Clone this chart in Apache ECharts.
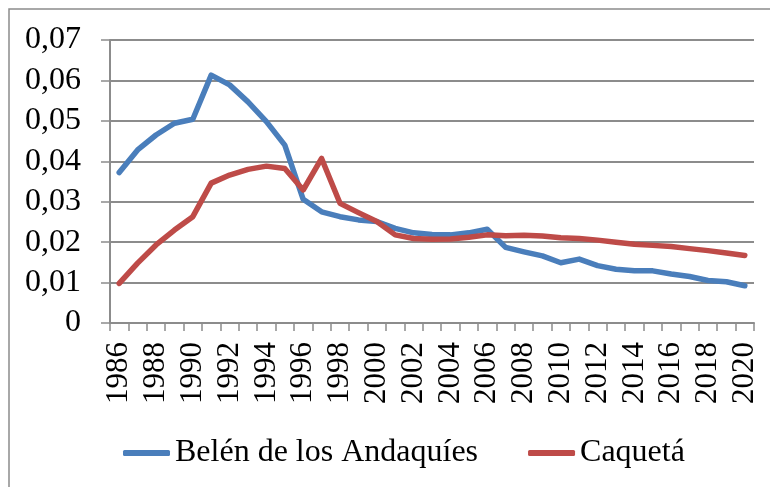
<!DOCTYPE html>
<html>
<head>
<meta charset="utf-8">
<script src="https://cdn.jsdelivr.net/npm/echarts@6/dist/echarts.min.js"></script>
<style>
html,body{margin:0;padding:0;background:#fff;}
#chart{width:770px;height:487px;}
</style>
</head>
<body>
<div id="chart"></div>
<script>
var years = ['1986','1987','1988','1989','1990','1991','1992','1993','1994','1995','1996','1997','1998','1999','2000','2001','2002','2003','2004','2005','2006','2007','2008','2009','2010','2011','2012','2013','2014','2015','2016','2017','2018','2019','2020'];
var belen = [0.0372,0.0428,0.0465,0.0494,0.0504,0.0613,0.0589,0.0547,0.0498,0.0440,0.0306,0.0275,0.0263,0.0255,0.0251,0.0234,0.0223,0.0219,0.0218,0.0223,0.0232,0.0187,0.0176,0.0166,0.0149,0.0158,0.0142,0.0133,0.0129,0.0129,0.0121,0.0115,0.0105,0.0102,0.0092];
var caqueta = [0.0098,0.0148,0.0193,0.0230,0.0263,0.0346,0.0366,0.0380,0.0388,0.0382,0.0329,0.0407,0.0296,0.0273,0.0251,0.0218,0.0209,0.0207,0.0208,0.0212,0.0218,0.0216,0.0217,0.0215,0.0211,0.0209,0.0205,0.0200,0.0195,0.0192,0.0189,0.0184,0.0179,0.0173,0.0167];
var seriesNames = ['Belén de los Andaquíes','Caquetá'];

var font = '"Liberation Serif", "Times New Roman", serif';
var chart = echarts.init(document.getElementById('chart'), null, {renderer:'canvas'});
chart.setOption({
  animation:false,
  backgroundColor:'#fff',
  graphic:[{type:'rect', shape:{x:9,y:9,width:780,height:500}, style:{fill:'none', stroke:'#8c8c8c', lineWidth:1.5}, silent:true}],
  grid:{left:110, right:16, top:40, bottom:164, containLabel:false},
  legend:{
    data:seriesNames, left:118, top:432, itemWidth:47, itemHeight:6, itemGap:50,
    icon:'roundRect',
    textStyle:{fontFamily:font, fontSize:32, color:'#000'}
  },
  xAxis:{
    type:'category', data:years, boundaryGap:true,
    axisLine:{lineStyle:{color:'#8c8c8c', width:2}},
    axisTick:{show:true, interval:0, length:8, lineStyle:{color:'#8c8c8c', width:1.5}},
    axisLabel:{interval:1, rotate:90, margin:19, fontFamily:font, fontSize:31, color:'#000'},
    splitLine:{show:false}
  },
  yAxis:{
    type:'value', min:0, max:0.07, interval:0.01,
    axisLine:{show:true, lineStyle:{color:'#8c8c8c', width:2}},
    axisTick:{show:true, length:9, lineStyle:{color:'#8c8c8c', width:1.5}},
    axisLabel:{margin:29, fontFamily:font, fontSize:32, color:'#000',
      formatter:function(v){ return v===0 ? '0' : v.toFixed(2).replace('.',','); }},
    splitLine:{show:true, lineStyle:{color:'#8c8c8c', width:2}}
  },
  series:[
    {name:seriesNames[0], type:'line', data:belen, symbol:'none', color:'#4a7ebb',
     lineStyle:{width:5.5, color:'#4a7ebb', cap:'round', join:'round'}},
    {name:seriesNames[1], type:'line', data:caqueta, symbol:'none', color:'#be4b48',
     lineStyle:{width:5.5, color:'#be4b48', cap:'round', join:'round'}}
  ]
});
</script>
</body>
</html>
